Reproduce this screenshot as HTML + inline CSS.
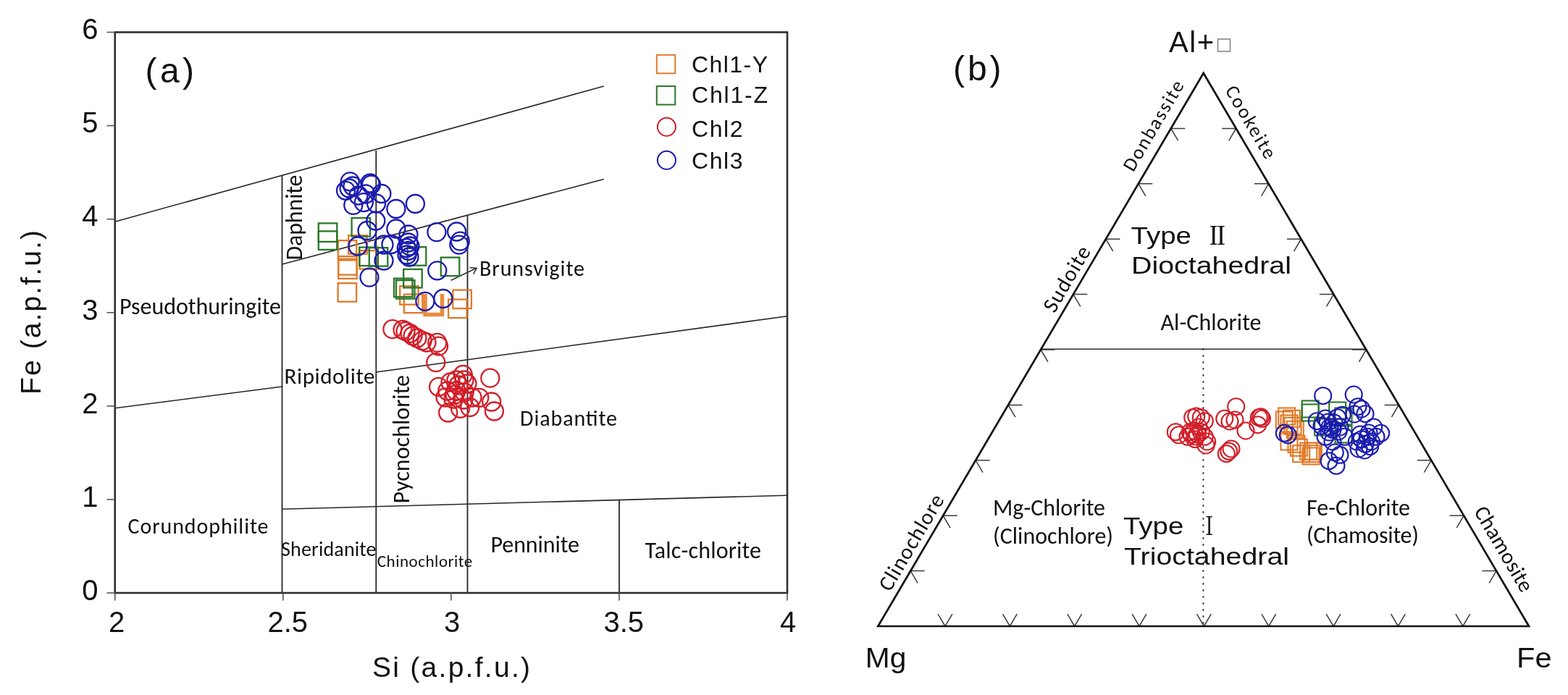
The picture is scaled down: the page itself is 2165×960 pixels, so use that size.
<!DOCTYPE html>
<html><head><meta charset="utf-8"><title>Chlorite classification diagrams</title>
<style>html,body{margin:0;padding:0;background:#fff;} svg{display:block;}</style></head>
<body><svg width="2165" height="960" viewBox="0 0 2165 960">
<rect width="2165" height="960" fill="#fff"/>
<line x1="158.75" y1="306.25" x2="833.75" y2="119.00" stroke="#262626" stroke-width="1.6" />
<line x1="389.50" y1="365.00" x2="833.75" y2="247.50" stroke="#262626" stroke-width="1.6" />
<line x1="158.75" y1="563.75" x2="389.50" y2="534.00" stroke="#262626" stroke-width="1.6" />
<line x1="519.50" y1="514.00" x2="1087.00" y2="436.70" stroke="#262626" stroke-width="1.6" />
<line x1="389.50" y1="703.20" x2="1087.00" y2="684.30" stroke="#262626" stroke-width="1.6" />
<line x1="389.50" y1="242.50" x2="389.50" y2="819.00" stroke="#262626" stroke-width="1.8" />
<line x1="519.30" y1="208.00" x2="519.30" y2="819.00" stroke="#262626" stroke-width="1.8" />
<line x1="645.50" y1="297.50" x2="645.50" y2="819.00" stroke="#262626" stroke-width="1.8" />
<line x1="855.00" y1="690.50" x2="855.00" y2="819.00" stroke="#262626" stroke-width="1.8" />
<rect x="158.75" y="44.5" width="928.25" height="774.5" fill="none" stroke="#2e2e2e" stroke-width="2.6"/>
<line x1="147.50" y1="819.00" x2="158.75" y2="819.00" stroke="#555" stroke-width="1.6" />
<text x="135.50" y="828.80" font-size="40" font-family="'Liberation Sans', Arial, sans-serif" text-anchor="end" fill="#111" >0</text>
<line x1="147.50" y1="689.92" x2="158.75" y2="689.92" stroke="#555" stroke-width="1.6" />
<text x="135.50" y="699.72" font-size="40" font-family="'Liberation Sans', Arial, sans-serif" text-anchor="end" fill="#111" >1</text>
<line x1="147.50" y1="560.83" x2="158.75" y2="560.83" stroke="#555" stroke-width="1.6" />
<text x="135.50" y="570.63" font-size="40" font-family="'Liberation Sans', Arial, sans-serif" text-anchor="end" fill="#111" >2</text>
<line x1="147.50" y1="431.75" x2="158.75" y2="431.75" stroke="#555" stroke-width="1.6" />
<text x="135.50" y="441.55" font-size="40" font-family="'Liberation Sans', Arial, sans-serif" text-anchor="end" fill="#111" >3</text>
<line x1="147.50" y1="302.67" x2="158.75" y2="302.67" stroke="#555" stroke-width="1.6" />
<text x="135.50" y="312.47" font-size="40" font-family="'Liberation Sans', Arial, sans-serif" text-anchor="end" fill="#111" >4</text>
<line x1="147.50" y1="173.58" x2="158.75" y2="173.58" stroke="#555" stroke-width="1.6" />
<text x="135.50" y="183.38" font-size="40" font-family="'Liberation Sans', Arial, sans-serif" text-anchor="end" fill="#111" >5</text>
<line x1="147.50" y1="44.50" x2="158.75" y2="44.50" stroke="#555" stroke-width="1.6" />
<text x="135.50" y="54.30" font-size="40" font-family="'Liberation Sans', Arial, sans-serif" text-anchor="end" fill="#111" >6</text>
<line x1="158.75" y1="819.00" x2="158.75" y2="829.50" stroke="#555" stroke-width="1.6" />
<text x="150.00" y="872.50" font-size="40" font-family="'Liberation Sans', Arial, sans-serif" text-anchor="start" fill="#111" >2</text>
<line x1="390.81" y1="819.00" x2="390.81" y2="829.50" stroke="#555" stroke-width="1.6" />
<text x="369.50" y="872.50" font-size="40" font-family="'Liberation Sans', Arial, sans-serif" text-anchor="start" fill="#111" >2.5</text>
<line x1="622.88" y1="819.00" x2="622.88" y2="829.50" stroke="#555" stroke-width="1.6" />
<text x="613.00" y="872.50" font-size="40" font-family="'Liberation Sans', Arial, sans-serif" text-anchor="start" fill="#111" >3</text>
<line x1="854.94" y1="819.00" x2="854.94" y2="829.50" stroke="#555" stroke-width="1.6" />
<text x="833.50" y="872.50" font-size="40" font-family="'Liberation Sans', Arial, sans-serif" text-anchor="start" fill="#111" >3.5</text>
<line x1="1087.00" y1="819.00" x2="1087.00" y2="829.50" stroke="#555" stroke-width="1.6" />
<text x="1077.00" y="872.50" font-size="40" font-family="'Liberation Sans', Arial, sans-serif" text-anchor="start" fill="#111" >4</text>
<text x="514.00" y="935.00" font-size="39" font-family="'Liberation Sans', Arial, sans-serif" text-anchor="start" fill="#111" textLength="218.0" lengthAdjust="spacing" >Si (a.p.f.u.)</text>
<text x="56.30" y="545.00" font-size="39" font-family="'Liberation Sans', Arial, sans-serif" text-anchor="start" fill="#111" textLength="227.0" lengthAdjust="spacing" transform="rotate(-90.00 56.30 545.00)" >Fe (a.p.f.u.)</text>
<text x="200.50" y="114.40" font-size="48" font-family="'Liberation Sans', Arial, sans-serif" text-anchor="start" fill="#111" textLength="67.5" lengthAdjust="spacing" >(a)</text>
<text x="165.00" y="434.40" font-size="32" font-family="Carlito, 'Liberation Sans', sans-serif" text-anchor="start" fill="#111" textLength="223.0" lengthAdjust="spacing" >Pseudothuringite</text>
<text x="176.50" y="736.50" font-size="30" font-family="Carlito, 'Liberation Sans', sans-serif" text-anchor="start" fill="#111" textLength="194.0" lengthAdjust="spacing" >Corundophilite</text>
<text x="388.00" y="767.70" font-size="28" font-family="Carlito, 'Liberation Sans', sans-serif" text-anchor="start" fill="#111" textLength="131.5" lengthAdjust="spacing" >Sheridanite</text>
<text x="520.80" y="783.10" font-size="23" font-family="Carlito, 'Liberation Sans', sans-serif" text-anchor="start" fill="#111" textLength="131.5" lengthAdjust="spacing" >Chinochlorite</text>
<text x="677.50" y="763.00" font-size="32" font-family="Carlito, 'Liberation Sans', sans-serif" text-anchor="start" fill="#111" textLength="122.5" lengthAdjust="spacing" >Penninite</text>
<text x="890.50" y="770.50" font-size="32" font-family="Carlito, 'Liberation Sans', sans-serif" text-anchor="start" fill="#111" textLength="160.5" lengthAdjust="spacing" >Talc-chlorite</text>
<text x="718.00" y="587.50" font-size="30" font-family="Carlito, 'Liberation Sans', sans-serif" text-anchor="start" fill="#111" textLength="134.0" lengthAdjust="spacing" >Diabantite</text>
<text x="662.00" y="380.70" font-size="30" font-family="Carlito, 'Liberation Sans', sans-serif" text-anchor="start" fill="#111" textLength="145.0" lengthAdjust="spacing" >Brunsvigite</text>
<text x="392.50" y="530.00" font-size="31" font-family="Carlito, 'Liberation Sans', sans-serif" text-anchor="start" fill="#111" textLength="125.0" lengthAdjust="spacing" >Ripidolite</text>
<text x="416.50" y="359.50" font-size="32" font-family="Carlito, 'Liberation Sans', sans-serif" text-anchor="start" fill="#111" textLength="118.0" lengthAdjust="spacing" transform="rotate(-90.00 416.50 359.50)" >Daphnite</text>
<text x="565.00" y="695.50" font-size="32" font-family="Carlito, 'Liberation Sans', sans-serif" text-anchor="start" fill="#111" textLength="177.5" lengthAdjust="spacing" transform="rotate(-90.00 565.00 695.50)" >Pycnochlorite</text>
<line x1="622.60" y1="387.20" x2="657.00" y2="370.80" stroke="#333" stroke-width="1.5" />
<polyline points="648.5,369.4 658.2,370.4 653.6,378.6" fill="none" stroke="#333" stroke-width="1.5"/>
<rect x="906.75" y="75.85" width="25.5" height="25.5" fill="none" stroke="#e07a28" stroke-width="2.0"/>
<rect x="906.75" y="119.05" width="25.5" height="25.5" fill="none" stroke="#2a762a" stroke-width="2.0"/>
<circle cx="920.40" cy="175.30" r="12.5" fill="none" stroke="#d21f29" stroke-width="2.0"/>
<circle cx="920.40" cy="221.30" r="12.5" fill="none" stroke="#1b1bb0" stroke-width="2.0"/>
<text x="955.00" y="99.60" font-size="32" font-family="'Liberation Sans', Arial, sans-serif" text-anchor="start" fill="#111" textLength="105.0" lengthAdjust="spacing" >Chl1-Y</text>
<text x="955.00" y="142.10" font-size="32" font-family="'Liberation Sans', Arial, sans-serif" text-anchor="start" fill="#111" textLength="105.0" lengthAdjust="spacing" >Chl1-Z</text>
<text x="955.00" y="188.60" font-size="32" font-family="'Liberation Sans', Arial, sans-serif" text-anchor="start" fill="#111" textLength="70.5" lengthAdjust="spacing" >Chl2</text>
<text x="955.00" y="233.20" font-size="32" font-family="'Liberation Sans', Arial, sans-serif" text-anchor="start" fill="#111" textLength="70.5" lengthAdjust="spacing" >Chl3</text>
<polyline points="1276.74,788.60 1257.24,788.60 1267.13,805.41" fill="none" stroke="#3a3a3a" stroke-width="1.5"/>
<polyline points="2046.57,788.60 2066.07,788.60 2056.18,805.41" fill="none" stroke="#3a3a3a" stroke-width="1.5"/>
<polyline points="1295.11,848.19 1305.00,865.00 1314.89,848.19" fill="none" stroke="#3a3a3a" stroke-width="1.5"/>
<polyline points="1321.68,712.20 1302.18,712.20 1312.07,729.01" fill="none" stroke="#3a3a3a" stroke-width="1.5"/>
<polyline points="2001.64,712.20 2021.14,712.20 2011.25,729.01" fill="none" stroke="#3a3a3a" stroke-width="1.5"/>
<polyline points="1384.46,848.19 1394.35,865.00 1404.24,848.19" fill="none" stroke="#3a3a3a" stroke-width="1.5"/>
<polyline points="1366.62,635.80 1347.12,635.80 1357.01,652.61" fill="none" stroke="#3a3a3a" stroke-width="1.5"/>
<polyline points="1956.71,635.80 1976.21,635.80 1966.32,652.61" fill="none" stroke="#3a3a3a" stroke-width="1.5"/>
<polyline points="1473.81,848.19 1483.70,865.00 1493.59,848.19" fill="none" stroke="#3a3a3a" stroke-width="1.5"/>
<polyline points="1411.56,559.40 1392.06,559.40 1401.95,576.21" fill="none" stroke="#3a3a3a" stroke-width="1.5"/>
<polyline points="1911.78,559.40 1931.28,559.40 1921.39,576.21" fill="none" stroke="#3a3a3a" stroke-width="1.5"/>
<polyline points="1563.16,848.19 1573.05,865.00 1582.94,848.19" fill="none" stroke="#3a3a3a" stroke-width="1.5"/>
<polyline points="1456.50,483.00 1437.00,483.00 1446.89,499.81" fill="none" stroke="#3a3a3a" stroke-width="1.5"/>
<polyline points="1866.85,483.00 1886.35,483.00 1876.46,499.81" fill="none" stroke="#3a3a3a" stroke-width="1.5"/>
<polyline points="1652.51,848.19 1662.40,865.00 1672.29,848.19" fill="none" stroke="#3a3a3a" stroke-width="1.5"/>
<polyline points="1501.44,406.60 1481.94,406.60 1491.83,423.41" fill="none" stroke="#3a3a3a" stroke-width="1.5"/>
<polyline points="1821.92,406.60 1841.42,406.60 1831.53,423.41" fill="none" stroke="#3a3a3a" stroke-width="1.5"/>
<polyline points="1741.86,848.19 1751.75,865.00 1761.64,848.19" fill="none" stroke="#3a3a3a" stroke-width="1.5"/>
<polyline points="1546.38,330.20 1526.88,330.20 1536.77,347.01" fill="none" stroke="#3a3a3a" stroke-width="1.5"/>
<polyline points="1776.99,330.20 1796.49,330.20 1786.60,347.01" fill="none" stroke="#3a3a3a" stroke-width="1.5"/>
<polyline points="1831.21,848.19 1841.10,865.00 1850.99,848.19" fill="none" stroke="#3a3a3a" stroke-width="1.5"/>
<polyline points="1591.32,253.80 1571.82,253.80 1581.71,270.61" fill="none" stroke="#3a3a3a" stroke-width="1.5"/>
<polyline points="1732.06,253.80 1751.56,253.80 1741.67,270.61" fill="none" stroke="#3a3a3a" stroke-width="1.5"/>
<polyline points="1920.56,848.19 1930.45,865.00 1940.34,848.19" fill="none" stroke="#3a3a3a" stroke-width="1.5"/>
<polyline points="1636.26,177.40 1616.76,177.40 1626.65,194.21" fill="none" stroke="#3a3a3a" stroke-width="1.5"/>
<polyline points="1687.13,177.40 1706.63,177.40 1696.74,194.21" fill="none" stroke="#3a3a3a" stroke-width="1.5"/>
<polyline points="2009.91,848.19 2019.80,865.00 2029.69,848.19" fill="none" stroke="#3a3a3a" stroke-width="1.5"/>
<line x1="1437.00" y1="482.30" x2="1886.35" y2="482.30" stroke="#2a2a2a" stroke-width="1.6" />
<line x1="1661.40" y1="481.20" x2="1661.40" y2="863.00" stroke="#2a2a2a" stroke-width="1.9" stroke-dasharray="2.6 6.4"/>
<polygon points="1212.3,865.0 1661.7,101.0 2111.0,865.0" fill="none" stroke="#111" stroke-width="2.7" stroke-linejoin="miter"/>
<text x="1614.00" y="71.60" font-size="40" font-family="'Liberation Sans', Arial, sans-serif" text-anchor="start" fill="#111" textLength="62.0" lengthAdjust="spacing" >Al+</text>
<rect x="1681.5" y="54" width="17" height="17" fill="none" stroke="#888" stroke-width="1.6"/>
<text x="1194.80" y="921.70" font-size="38" font-family="'Liberation Sans', Arial, sans-serif" text-anchor="start" fill="#111" textLength="56.5" lengthAdjust="spacingAndGlyphs" >Mg</text>
<text x="2094.00" y="922.00" font-size="38" font-family="'Liberation Sans', Arial, sans-serif" text-anchor="start" fill="#111" textLength="48.5" lengthAdjust="spacingAndGlyphs" >Fe</text>
<text x="1316.00" y="110.70" font-size="48" font-family="'Liberation Sans', Arial, sans-serif" text-anchor="start" fill="#111" textLength="66.5" lengthAdjust="spacing" >(b)</text>
<text x="1561.50" y="336.90" font-size="34" font-family="'Liberation Sans', Arial, sans-serif" text-anchor="start" fill="#111" textLength="83.5" lengthAdjust="spacingAndGlyphs" >Type</text>
<text x="1666.00" y="338.30" font-size="35" font-family="'Noto Serif CJK SC', 'Liberation Serif', serif" text-anchor="start" fill="#111" textLength="29.8" lengthAdjust="spacingAndGlyphs" font-weight="600">Ⅱ</text>
<text x="1562.00" y="377.80" font-size="34" font-family="'Liberation Sans', Arial, sans-serif" text-anchor="start" fill="#111" textLength="221.0" lengthAdjust="spacingAndGlyphs" >Dioctahedral</text>
<text x="1602.50" y="456.00" font-size="32" font-family="Carlito, 'Liberation Sans', sans-serif" text-anchor="start" fill="#111" textLength="139.0" lengthAdjust="spacing" >Al-Chlorite</text>
<text x="1371.00" y="711.50" font-size="32" font-family="Carlito, 'Liberation Sans', sans-serif" text-anchor="start" fill="#111" textLength="155.0" lengthAdjust="spacing" >Mg-Chlorite</text>
<text x="1371.00" y="751.00" font-size="32" font-family="Carlito, 'Liberation Sans', sans-serif" text-anchor="start" fill="#111" textLength="166.0" lengthAdjust="spacing" >(Clinochlore)</text>
<text x="1551.00" y="738.00" font-size="34" font-family="'Liberation Sans', Arial, sans-serif" text-anchor="start" fill="#111" textLength="83.3" lengthAdjust="spacingAndGlyphs" >Type</text>
<text x="1658.30" y="739.30" font-size="35" font-family="'Noto Serif CJK SC', 'Liberation Serif', serif" text-anchor="start" fill="#111" textLength="22.8" lengthAdjust="spacingAndGlyphs" font-weight="600">Ⅰ</text>
<text x="1552.00" y="779.60" font-size="34" font-family="'Liberation Sans', Arial, sans-serif" text-anchor="start" fill="#111" textLength="228.0" lengthAdjust="spacingAndGlyphs" >Trioctahedral</text>
<text x="1804.00" y="711.90" font-size="32" font-family="Carlito, 'Liberation Sans', sans-serif" text-anchor="start" fill="#111" textLength="143.0" lengthAdjust="spacing" >Fe-Chlorite</text>
<text x="1804.00" y="750.30" font-size="32" font-family="Carlito, 'Liberation Sans', sans-serif" text-anchor="start" fill="#111" textLength="155.0" lengthAdjust="spacing" >(Chamosite)</text>
<text x="0" y="0" font-size="27" font-family="Carlito, 'Liberation Sans', sans-serif" text-anchor="middle" fill="#111" textLength="140" lengthAdjust="spacing" transform="translate(1592.00 173.30) rotate(-59.54)" dominant-baseline="central">Donbassite</text>
<text x="0" y="0" font-size="27" font-family="Carlito, 'Liberation Sans', sans-serif" text-anchor="middle" fill="#111" textLength="112" lengthAdjust="spacing" transform="translate(1727.50 168.30) rotate(59.54)" dominant-baseline="central">Cookeite</text>
<text x="0" y="0" font-size="30" font-family="Carlito, 'Liberation Sans', sans-serif" text-anchor="middle" fill="#111" textLength="100" lengthAdjust="spacing" transform="translate(1472.30 385.00) rotate(-59.54)" dominant-baseline="central">Sudoite</text>
<text x="0" y="0" font-size="30" font-family="Carlito, 'Liberation Sans', sans-serif" text-anchor="middle" fill="#111" textLength="149" lengthAdjust="spacing" transform="translate(1257.80 748.90) rotate(-59.54)" dominant-baseline="central">Clinochlore</text>
<text x="0" y="0" font-size="30" font-family="Carlito, 'Liberation Sans', sans-serif" text-anchor="middle" fill="#111" textLength="132" lengthAdjust="spacing" transform="translate(2077.00 758.00) rotate(59.54)" dominant-baseline="central">Chamosite</text>
<path d="M587,406 V434.5 H610.5 V406" fill="none" stroke="#ea8c3e" stroke-width="5.5"/>
<rect x="467.2" y="354.1" width="25.5" height="25.5" fill="none" stroke="#e07a28" stroke-width="2.3"/>
<rect x="467.2" y="359.4" width="25.5" height="25.5" fill="none" stroke="#e07a28" stroke-width="2.3"/>
<rect x="466.6" y="391.2" width="25.5" height="25.5" fill="none" stroke="#e07a28" stroke-width="2.3"/>
<rect x="496.6" y="346.1" width="25.5" height="25.5" fill="none" stroke="#e07a28" stroke-width="2.3"/>
<rect x="552.2" y="395.2" width="25.5" height="25.5" fill="none" stroke="#e07a28" stroke-width="2.3"/>
<rect x="557.9" y="406.6" width="25.5" height="25.5" fill="none" stroke="#e07a28" stroke-width="2.3"/>
<rect x="625.4" y="400.6" width="25.5" height="25.5" fill="none" stroke="#e07a28" stroke-width="2.3"/>
<rect x="619.1" y="413.6" width="25.5" height="25.5" fill="none" stroke="#e07a28" stroke-width="2.3"/>
<rect x="481.2" y="325.2" width="25.5" height="25.5" fill="none" stroke="#e07a28" stroke-width="2.3"/>
<rect x="466.8" y="332.2" width="25.5" height="25.5" fill="none" stroke="#e07a28" stroke-width="2.3"/>
<rect x="439.8" y="308.4" width="25.5" height="25.5" fill="none" stroke="#2a762a" stroke-width="2.3"/>
<rect x="439.8" y="319.4" width="25.5" height="25.5" fill="none" stroke="#2a762a" stroke-width="2.3"/>
<rect x="485.6" y="301.1" width="25.5" height="25.5" fill="none" stroke="#2a762a" stroke-width="2.3"/>
<rect x="496.2" y="341.6" width="25.5" height="25.5" fill="none" stroke="#2a762a" stroke-width="2.3"/>
<rect x="509.8" y="342.2" width="25.5" height="25.5" fill="none" stroke="#2a762a" stroke-width="2.3"/>
<rect x="562.8" y="341.2" width="25.5" height="25.5" fill="none" stroke="#2a762a" stroke-width="2.3"/>
<rect x="557.2" y="371.9" width="25.5" height="25.5" fill="none" stroke="#2a762a" stroke-width="2.3"/>
<rect x="544.0" y="384.6" width="25.5" height="25.5" fill="none" stroke="#2a762a" stroke-width="2.3"/>
<rect x="547.0" y="387.1" width="25.5" height="25.5" fill="none" stroke="#2a762a" stroke-width="2.3"/>
<rect x="608.8" y="355.6" width="25.5" height="25.5" fill="none" stroke="#2a762a" stroke-width="2.3"/>
<circle cx="541.9" cy="454.7" r="12.5" fill="none" stroke="#d21f29" stroke-width="2.3"/>
<circle cx="556.0" cy="455.5" r="12.5" fill="none" stroke="#d21f29" stroke-width="2.3"/>
<circle cx="560.0" cy="457.5" r="12.5" fill="none" stroke="#d21f29" stroke-width="2.3"/>
<circle cx="566.0" cy="460.5" r="12.5" fill="none" stroke="#d21f29" stroke-width="2.3"/>
<circle cx="570.0" cy="464.0" r="12.5" fill="none" stroke="#d21f29" stroke-width="2.3"/>
<circle cx="576.0" cy="467.0" r="12.5" fill="none" stroke="#d21f29" stroke-width="2.3"/>
<circle cx="583.1" cy="470.6" r="12.5" fill="none" stroke="#d21f29" stroke-width="2.3"/>
<circle cx="589.0" cy="473.0" r="12.5" fill="none" stroke="#d21f29" stroke-width="2.3"/>
<circle cx="603.7" cy="473.4" r="12.5" fill="none" stroke="#d21f29" stroke-width="2.3"/>
<circle cx="605.6" cy="478.1" r="12.5" fill="none" stroke="#d21f29" stroke-width="2.3"/>
<circle cx="601.8" cy="500.6" r="12.5" fill="none" stroke="#d21f29" stroke-width="2.3"/>
<circle cx="605.6" cy="534.3" r="12.5" fill="none" stroke="#d21f29" stroke-width="2.3"/>
<circle cx="617.8" cy="540.0" r="12.5" fill="none" stroke="#d21f29" stroke-width="2.3"/>
<circle cx="630.0" cy="525.0" r="12.5" fill="none" stroke="#d21f29" stroke-width="2.3"/>
<circle cx="639.3" cy="517.5" r="12.5" fill="none" stroke="#d21f29" stroke-width="2.3"/>
<circle cx="641.0" cy="525.0" r="12.5" fill="none" stroke="#d21f29" stroke-width="2.3"/>
<circle cx="630.0" cy="540.0" r="12.5" fill="none" stroke="#d21f29" stroke-width="2.3"/>
<circle cx="641.2" cy="541.8" r="12.5" fill="none" stroke="#d21f29" stroke-width="2.3"/>
<circle cx="652.0" cy="549.0" r="12.5" fill="none" stroke="#d21f29" stroke-width="2.3"/>
<circle cx="661.8" cy="549.3" r="12.5" fill="none" stroke="#d21f29" stroke-width="2.3"/>
<circle cx="676.8" cy="522.2" r="12.5" fill="none" stroke="#d21f29" stroke-width="2.3"/>
<circle cx="618.7" cy="570.0" r="12.5" fill="none" stroke="#d21f29" stroke-width="2.3"/>
<circle cx="635.6" cy="564.3" r="12.5" fill="none" stroke="#d21f29" stroke-width="2.3"/>
<circle cx="648.7" cy="562.5" r="12.5" fill="none" stroke="#d21f29" stroke-width="2.3"/>
<circle cx="678.7" cy="555.0" r="12.5" fill="none" stroke="#d21f29" stroke-width="2.3"/>
<circle cx="682.4" cy="568.0" r="12.5" fill="none" stroke="#d21f29" stroke-width="2.3"/>
<circle cx="615.0" cy="549.0" r="12.5" fill="none" stroke="#d21f29" stroke-width="2.3"/>
<circle cx="626.0" cy="551.0" r="12.5" fill="none" stroke="#d21f29" stroke-width="2.3"/>
<circle cx="633.0" cy="532.0" r="12.5" fill="none" stroke="#d21f29" stroke-width="2.3"/>
<circle cx="645.0" cy="530.0" r="12.5" fill="none" stroke="#d21f29" stroke-width="2.3"/>
<circle cx="628.0" cy="545.0" r="12.5" fill="none" stroke="#d21f29" stroke-width="2.3"/>
<circle cx="640.0" cy="552.0" r="12.5" fill="none" stroke="#d21f29" stroke-width="2.3"/>
<circle cx="622.0" cy="528.0" r="12.5" fill="none" stroke="#d21f29" stroke-width="2.3"/>
<circle cx="483.3" cy="250.8" r="12.5" fill="none" stroke="#1b1bb0" stroke-width="2.3"/>
<circle cx="511.0" cy="253.0" r="12.5" fill="none" stroke="#1b1bb0" stroke-width="2.3"/>
<circle cx="512.5" cy="255.0" r="12.5" fill="none" stroke="#1b1bb0" stroke-width="2.3"/>
<circle cx="477.5" cy="263.3" r="12.5" fill="none" stroke="#1b1bb0" stroke-width="2.3"/>
<circle cx="482.0" cy="260.0" r="12.5" fill="none" stroke="#1b1bb0" stroke-width="2.3"/>
<circle cx="487.0" cy="257.0" r="12.5" fill="none" stroke="#1b1bb0" stroke-width="2.3"/>
<circle cx="487.8" cy="283.4" r="12.5" fill="none" stroke="#1b1bb0" stroke-width="2.3"/>
<circle cx="502.3" cy="279.7" r="12.5" fill="none" stroke="#1b1bb0" stroke-width="2.3"/>
<circle cx="526.9" cy="267.5" r="12.5" fill="none" stroke="#1b1bb0" stroke-width="2.3"/>
<circle cx="519.5" cy="281.0" r="12.5" fill="none" stroke="#1b1bb0" stroke-width="2.3"/>
<circle cx="518.8" cy="305.0" r="12.5" fill="none" stroke="#1b1bb0" stroke-width="2.3"/>
<circle cx="546.9" cy="288.5" r="12.5" fill="none" stroke="#1b1bb0" stroke-width="2.3"/>
<circle cx="573.4" cy="281.5" r="12.5" fill="none" stroke="#1b1bb0" stroke-width="2.3"/>
<circle cx="495.0" cy="270.0" r="12.5" fill="none" stroke="#1b1bb0" stroke-width="2.3"/>
<circle cx="505.0" cy="268.0" r="12.5" fill="none" stroke="#1b1bb0" stroke-width="2.3"/>
<circle cx="546.9" cy="316.0" r="12.5" fill="none" stroke="#1b1bb0" stroke-width="2.3"/>
<circle cx="564.0" cy="324.0" r="12.5" fill="none" stroke="#1b1bb0" stroke-width="2.3"/>
<circle cx="602.9" cy="320.6" r="12.5" fill="none" stroke="#1b1bb0" stroke-width="2.3"/>
<circle cx="630.6" cy="320.0" r="12.5" fill="none" stroke="#1b1bb0" stroke-width="2.3"/>
<circle cx="635.3" cy="333.1" r="12.5" fill="none" stroke="#1b1bb0" stroke-width="2.3"/>
<circle cx="633.8" cy="338.1" r="12.5" fill="none" stroke="#1b1bb0" stroke-width="2.3"/>
<circle cx="563.8" cy="335.0" r="12.5" fill="none" stroke="#1b1bb0" stroke-width="2.3"/>
<circle cx="563.8" cy="346.3" r="12.5" fill="none" stroke="#1b1bb0" stroke-width="2.3"/>
<circle cx="561.3" cy="342.5" r="12.5" fill="none" stroke="#1b1bb0" stroke-width="2.3"/>
<circle cx="565.0" cy="355.0" r="12.5" fill="none" stroke="#1b1bb0" stroke-width="2.3"/>
<circle cx="494.0" cy="340.0" r="12.5" fill="none" stroke="#1b1bb0" stroke-width="2.3"/>
<circle cx="510.0" cy="383.1" r="12.5" fill="none" stroke="#1b1bb0" stroke-width="2.3"/>
<circle cx="507.0" cy="318.5" r="12.5" fill="none" stroke="#1b1bb0" stroke-width="2.3"/>
<circle cx="530.0" cy="360.0" r="12.5" fill="none" stroke="#1b1bb0" stroke-width="2.3"/>
<circle cx="530.0" cy="338.0" r="12.5" fill="none" stroke="#1b1bb0" stroke-width="2.3"/>
<circle cx="540.0" cy="337.5" r="12.5" fill="none" stroke="#1b1bb0" stroke-width="2.3"/>
<circle cx="566.0" cy="340.0" r="12.5" fill="none" stroke="#1b1bb0" stroke-width="2.3"/>
<circle cx="562.0" cy="352.0" r="12.5" fill="none" stroke="#1b1bb0" stroke-width="2.3"/>
<circle cx="603.8" cy="373.8" r="12.5" fill="none" stroke="#1b1bb0" stroke-width="2.3"/>
<circle cx="586.9" cy="416.3" r="12.5" fill="none" stroke="#1b1bb0" stroke-width="2.3"/>
<circle cx="611.9" cy="412.5" r="12.5" fill="none" stroke="#1b1bb0" stroke-width="2.3"/>
<rect x="1765.2" y="563.5" width="23" height="23" fill="none" stroke="#e07a28" stroke-width="2.1"/>
<rect x="1761.8" y="568.5" width="23" height="23" fill="none" stroke="#e07a28" stroke-width="2.1"/>
<rect x="1771.8" y="566.8" width="23" height="23" fill="none" stroke="#e07a28" stroke-width="2.1"/>
<rect x="1768.5" y="573.5" width="23" height="23" fill="none" stroke="#e07a28" stroke-width="2.1"/>
<rect x="1773.5" y="576.8" width="23" height="23" fill="none" stroke="#e07a28" stroke-width="2.1"/>
<rect x="1776.8" y="581.8" width="23" height="23" fill="none" stroke="#e07a28" stroke-width="2.1"/>
<rect x="1768.5" y="598.5" width="23" height="23" fill="none" stroke="#e07a28" stroke-width="2.1"/>
<rect x="1778.5" y="601.8" width="23" height="23" fill="none" stroke="#e07a28" stroke-width="2.1"/>
<rect x="1781.8" y="606.8" width="23" height="23" fill="none" stroke="#e07a28" stroke-width="2.1"/>
<rect x="1785.2" y="615.2" width="23" height="23" fill="none" stroke="#e07a28" stroke-width="2.1"/>
<rect x="1795.2" y="611.8" width="23" height="23" fill="none" stroke="#e07a28" stroke-width="2.1"/>
<rect x="1800.2" y="615.2" width="23" height="23" fill="none" stroke="#e07a28" stroke-width="2.1"/>
<rect x="1798.5" y="618.5" width="23" height="23" fill="none" stroke="#e07a28" stroke-width="2.1"/>
<rect x="1801.8" y="611.8" width="23" height="23" fill="none" stroke="#e07a28" stroke-width="2.1"/>
<rect x="1797.7" y="553.5" width="23" height="23" fill="none" stroke="#2a762a" stroke-width="2.1"/>
<rect x="1797.7" y="558.5" width="23" height="23" fill="none" stroke="#2a762a" stroke-width="2.1"/>
<rect x="1835.2" y="555.5" width="23" height="23" fill="none" stroke="#2a762a" stroke-width="2.1"/>
<rect x="1815.2" y="578.5" width="23" height="23" fill="none" stroke="#2a762a" stroke-width="2.1"/>
<rect x="1843.5" y="588.5" width="23" height="23" fill="none" stroke="#2a762a" stroke-width="2.1"/>
<rect x="1843.5" y="563.5" width="23" height="23" fill="none" stroke="#2a762a" stroke-width="2.1"/>
<circle cx="1623.3" cy="596.7" r="11.5" fill="none" stroke="#d21f29" stroke-width="2.1"/>
<circle cx="1627.5" cy="600.8" r="11.5" fill="none" stroke="#d21f29" stroke-width="2.1"/>
<circle cx="1646.7" cy="576.7" r="11.5" fill="none" stroke="#d21f29" stroke-width="2.1"/>
<circle cx="1651.7" cy="575.0" r="11.5" fill="none" stroke="#d21f29" stroke-width="2.1"/>
<circle cx="1658.3" cy="576.7" r="11.5" fill="none" stroke="#d21f29" stroke-width="2.1"/>
<circle cx="1663.3" cy="581.7" r="11.5" fill="none" stroke="#d21f29" stroke-width="2.1"/>
<circle cx="1643.3" cy="596.7" r="11.5" fill="none" stroke="#d21f29" stroke-width="2.1"/>
<circle cx="1648.3" cy="595.0" r="11.5" fill="none" stroke="#d21f29" stroke-width="2.1"/>
<circle cx="1653.3" cy="600.0" r="11.5" fill="none" stroke="#d21f29" stroke-width="2.1"/>
<circle cx="1658.3" cy="596.7" r="11.5" fill="none" stroke="#d21f29" stroke-width="2.1"/>
<circle cx="1650.0" cy="606.7" r="11.5" fill="none" stroke="#d21f29" stroke-width="2.1"/>
<circle cx="1640.0" cy="603.3" r="11.5" fill="none" stroke="#d21f29" stroke-width="2.1"/>
<circle cx="1663.3" cy="603.3" r="11.5" fill="none" stroke="#d21f29" stroke-width="2.1"/>
<circle cx="1666.7" cy="610.0" r="11.5" fill="none" stroke="#d21f29" stroke-width="2.1"/>
<circle cx="1645.0" cy="600.0" r="11.5" fill="none" stroke="#d21f29" stroke-width="2.1"/>
<circle cx="1655.0" cy="590.0" r="11.5" fill="none" stroke="#d21f29" stroke-width="2.1"/>
<circle cx="1651.0" cy="603.0" r="11.5" fill="none" stroke="#d21f29" stroke-width="2.1"/>
<circle cx="1665.0" cy="615.0" r="11.5" fill="none" stroke="#d21f29" stroke-width="2.1"/>
<circle cx="1690.8" cy="578.3" r="11.5" fill="none" stroke="#d21f29" stroke-width="2.1"/>
<circle cx="1705.0" cy="580.0" r="11.5" fill="none" stroke="#d21f29" stroke-width="2.1"/>
<circle cx="1706.7" cy="561.7" r="11.5" fill="none" stroke="#d21f29" stroke-width="2.1"/>
<circle cx="1720.0" cy="595.0" r="11.5" fill="none" stroke="#d21f29" stroke-width="2.1"/>
<circle cx="1698.0" cy="582.0" r="11.5" fill="none" stroke="#d21f29" stroke-width="2.1"/>
<circle cx="1738.3" cy="576.7" r="11.5" fill="none" stroke="#d21f29" stroke-width="2.1"/>
<circle cx="1740.8" cy="575.8" r="11.5" fill="none" stroke="#d21f29" stroke-width="2.1"/>
<circle cx="1742.5" cy="578.3" r="11.5" fill="none" stroke="#d21f29" stroke-width="2.1"/>
<circle cx="1736.7" cy="586.7" r="11.5" fill="none" stroke="#d21f29" stroke-width="2.1"/>
<circle cx="1693.3" cy="626.7" r="11.5" fill="none" stroke="#d21f29" stroke-width="2.1"/>
<circle cx="1696.7" cy="623.3" r="11.5" fill="none" stroke="#d21f29" stroke-width="2.1"/>
<circle cx="1700.0" cy="620.0" r="11.5" fill="none" stroke="#d21f29" stroke-width="2.1"/>
<circle cx="1826.7" cy="546.7" r="11.5" fill="none" stroke="#1b1bb0" stroke-width="2.1"/>
<circle cx="1869.2" cy="545.0" r="11.5" fill="none" stroke="#1b1bb0" stroke-width="2.1"/>
<circle cx="1875.0" cy="561.7" r="11.5" fill="none" stroke="#1b1bb0" stroke-width="2.1"/>
<circle cx="1880.0" cy="565.0" r="11.5" fill="none" stroke="#1b1bb0" stroke-width="2.1"/>
<circle cx="1885.0" cy="571.7" r="11.5" fill="none" stroke="#1b1bb0" stroke-width="2.1"/>
<circle cx="1825.0" cy="588.3" r="11.5" fill="none" stroke="#1b1bb0" stroke-width="2.1"/>
<circle cx="1833.3" cy="583.3" r="11.5" fill="none" stroke="#1b1bb0" stroke-width="2.1"/>
<circle cx="1840.0" cy="593.3" r="11.5" fill="none" stroke="#1b1bb0" stroke-width="2.1"/>
<circle cx="1846.7" cy="576.7" r="11.5" fill="none" stroke="#1b1bb0" stroke-width="2.1"/>
<circle cx="1853.3" cy="573.3" r="11.5" fill="none" stroke="#1b1bb0" stroke-width="2.1"/>
<circle cx="1830.0" cy="603.3" r="11.5" fill="none" stroke="#1b1bb0" stroke-width="2.1"/>
<circle cx="1840.0" cy="610.0" r="11.5" fill="none" stroke="#1b1bb0" stroke-width="2.1"/>
<circle cx="1856.7" cy="603.3" r="11.5" fill="none" stroke="#1b1bb0" stroke-width="2.1"/>
<circle cx="1843.3" cy="625.0" r="11.5" fill="none" stroke="#1b1bb0" stroke-width="2.1"/>
<circle cx="1850.0" cy="628.3" r="11.5" fill="none" stroke="#1b1bb0" stroke-width="2.1"/>
<circle cx="1835.0" cy="636.7" r="11.5" fill="none" stroke="#1b1bb0" stroke-width="2.1"/>
<circle cx="1845.0" cy="643.3" r="11.5" fill="none" stroke="#1b1bb0" stroke-width="2.1"/>
<circle cx="1896.7" cy="590.0" r="11.5" fill="none" stroke="#1b1bb0" stroke-width="2.1"/>
<circle cx="1906.7" cy="598.3" r="11.5" fill="none" stroke="#1b1bb0" stroke-width="2.1"/>
<circle cx="1880.0" cy="606.7" r="11.5" fill="none" stroke="#1b1bb0" stroke-width="2.1"/>
<circle cx="1885.0" cy="613.3" r="11.5" fill="none" stroke="#1b1bb0" stroke-width="2.1"/>
<circle cx="1891.7" cy="616.7" r="11.5" fill="none" stroke="#1b1bb0" stroke-width="2.1"/>
<circle cx="1893.3" cy="610.0" r="11.5" fill="none" stroke="#1b1bb0" stroke-width="2.1"/>
<circle cx="1888.3" cy="603.3" r="11.5" fill="none" stroke="#1b1bb0" stroke-width="2.1"/>
<circle cx="1900.0" cy="603.3" r="11.5" fill="none" stroke="#1b1bb0" stroke-width="2.1"/>
<circle cx="1873.3" cy="610.0" r="11.5" fill="none" stroke="#1b1bb0" stroke-width="2.1"/>
<circle cx="1773.3" cy="598.3" r="11.5" fill="none" stroke="#1b1bb0" stroke-width="2.1"/>
<circle cx="1778.3" cy="600.8" r="11.5" fill="none" stroke="#1b1bb0" stroke-width="2.1"/>
<circle cx="1818.3" cy="581.7" r="11.5" fill="none" stroke="#1b1bb0" stroke-width="2.1"/>
<circle cx="1836.0" cy="590.0" r="11.5" fill="none" stroke="#1b1bb0" stroke-width="2.1"/>
<circle cx="1850.0" cy="590.0" r="11.5" fill="none" stroke="#1b1bb0" stroke-width="2.1"/>
<circle cx="1878.0" cy="600.0" r="11.5" fill="none" stroke="#1b1bb0" stroke-width="2.1"/>
<circle cx="1830.0" cy="578.0" r="11.5" fill="none" stroke="#1b1bb0" stroke-width="2.1"/>
<circle cx="1842.0" cy="584.0" r="11.5" fill="none" stroke="#1b1bb0" stroke-width="2.1"/>
<circle cx="1848.0" cy="596.0" r="11.5" fill="none" stroke="#1b1bb0" stroke-width="2.1"/>
<circle cx="1835.0" cy="597.0" r="11.5" fill="none" stroke="#1b1bb0" stroke-width="2.1"/>
<circle cx="1876.0" cy="620.0" r="11.5" fill="none" stroke="#1b1bb0" stroke-width="2.1"/>
<circle cx="1884.0" cy="622.0" r="11.5" fill="none" stroke="#1b1bb0" stroke-width="2.1"/>
<circle cx="1890.0" cy="598.0" r="11.5" fill="none" stroke="#1b1bb0" stroke-width="2.1"/>
<circle cx="1870.0" cy="572.0" r="11.5" fill="none" stroke="#1b1bb0" stroke-width="2.1"/>
</svg></body></html>
